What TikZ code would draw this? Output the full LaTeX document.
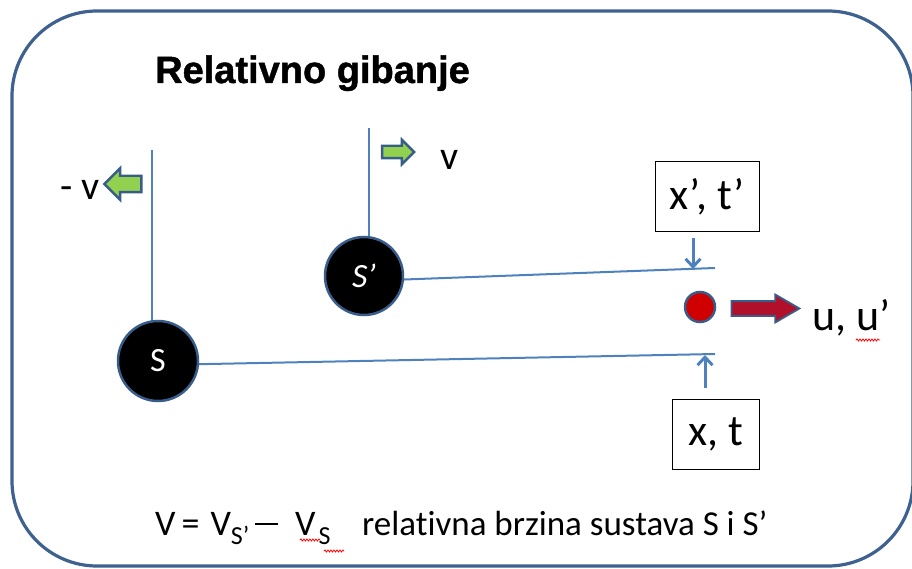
\documentclass[tikz,border=0pt]{standalone}
\usepackage{fontspec}
\setmainfont{Carlito}[Ligatures=NoCommon]
\newfontfamily\titlefont[BoldFeatures={FakeBold=1.2}]{Liberation Sans}
\usetikzlibrary{shapes.arrows,arrows.meta,decorations.pathmorphing,backgrounds}
\definecolor{frameblue}{HTML}{3E6190}
\definecolor{axisblue}{HTML}{4F81BD}
\definecolor{arrgreen}{HTML}{92D050}
\definecolor{arrborder}{HTML}{385D8A}
\definecolor{dotred}{HTML}{D00000}
\definecolor{redarrow}{HTML}{B0102A}
\newcommand\lowsub[1]{\raisebox{-9pt}{\fontsize{26}{26}\selectfont #1}}
\begin{document}
\begin{tikzpicture}[x=1pt,y=-1pt,
  axisline/.style={draw=axisblue,line width=2pt},
  frame/.style={draw=frameblue,line width=3.2pt,rounded corners=85pt},
  origin/.style={circle,fill=black,draw=arrborder,line width=2.5pt,inner sep=0pt,text=white,font=\fontsize{34}{34}\selectfont},
  greenarr/.style={single arrow,fill=arrgreen,draw=arrborder,line width=2.4pt,inner sep=0pt,single arrow head indent=0pt},
  redarr/.style={single arrow,fill=redarrow,draw=arrborder,line width=1.8pt,inner sep=0pt,single arrow tip angle=60},
  lbl/.style={font=\fontsize{40}{40}\selectfont,inner sep=0pt},
  evbox/.style={draw=black,line width=1pt,inner sep=0pt,font=\fontsize{44}{44}\selectfont},
  marker/.style={draw=axisblue,line width=3pt,-{Straight Barb[length=8pt,width=15pt]}},
  squig/.style={draw=red,line width=0.8pt,decorate,decoration={snake,amplitude=1pt,segment length=3pt}}
]
\useasboundingbox (0,0) rectangle (912,569);
\draw[frame] (12,11) rectangle (913,566);

\node[anchor=base west,inner sep=0pt,font=\titlefont\bfseries\fontsize{38}{40}\selectfont] (title) at (155,83) {Relativno gibanje};

\node[origin,minimum size=80pt] (S) at (158,361) {S};
\node[origin,minimum size=78pt,font=\itshape\fontsize{34}{34}\selectfont] (Sp) at (364,276) {S’};

\coordinate (Saxtop) at (152,150);
\coordinate (Spaxtop) at (369,128);
\coordinate (Send) at (715,354);
\coordinate (Spend) at (715,268);
\coordinate (ptop) at (693,269);
\coordinate (pbot) at (705,355);

\begin{scope}[on background layer]
\draw[axisline] (Saxtop) -- (Saxtop |- S.center);
\draw[axisline] (Spaxtop) -- (Spaxtop |- Sp.center);
\draw[axisline] ([yshift=-4pt]S.center) -- (Send);
\draw[axisline] ([yshift=-5pt]Sp.center) -- (Spend);
\end{scope}

\node[greenarr,shape border rotate=180,minimum height=37pt,inner ysep=7pt,single arrow head extend=7.5pt] (garrL) at (127,184) {};
\node[greenarr,minimum height=32pt,inner ysep=5pt,single arrow head extend=6pt] (garrR) at (395,152) {};
\node[lbl,anchor=base west] (mv) at (60,200) {- v};
\node[lbl,anchor=base west] (vlab) at (440,170) {v};

\node[evbox,minimum width=104pt,minimum height=70pt] (xp) at (707,197) {x’, t’};
\node[evbox,minimum width=87pt,minimum height=70pt] (xt) at (715.5,434) {x, t};
\draw[marker] ([yshift=-6pt]xp.south -| ptop) -- (ptop);
\draw[marker] ([yshift=11pt]xt.north -| pbot) -- (pbot);

\node[circle,fill=dotred,draw=arrborder,line width=2.5pt,minimum size=30pt,inner sep=0pt] (dot) at (700,307) {};
\node[redarr,minimum height=68pt,inner ysep=6.5pt,single arrow head extend=6.5pt] (uarr) at (759,308.5) {};
\node[inner sep=0pt,anchor=base west,font=\fontsize{44}{44}\selectfont] (ulab) at (812,330) {u, u’};
\draw[squig] (856,340) -- (880,340);

\node[anchor=base west,inner sep=0pt,font=\fontsize{36}{36}\selectfont] (eq) at (155,535) {V\hspace{6pt}=\hspace{11pt}V\lowsub{S’}\hspace{6pt}\raisebox{10pt}{\rule{23pt}{2.2pt}}\hspace{17pt}V\hspace{3pt}\lowsub{S}};
\node[anchor=base west,inner sep=0pt,font=\fontsize{35}{36}\selectfont] (eqtext) at (362,535) {relativna brzina sustava S i S’};
\draw[squig] (300,540) -- (320,540);
\draw[squig] (324,551) -- (344,551);
\end{tikzpicture}
\end{document}
